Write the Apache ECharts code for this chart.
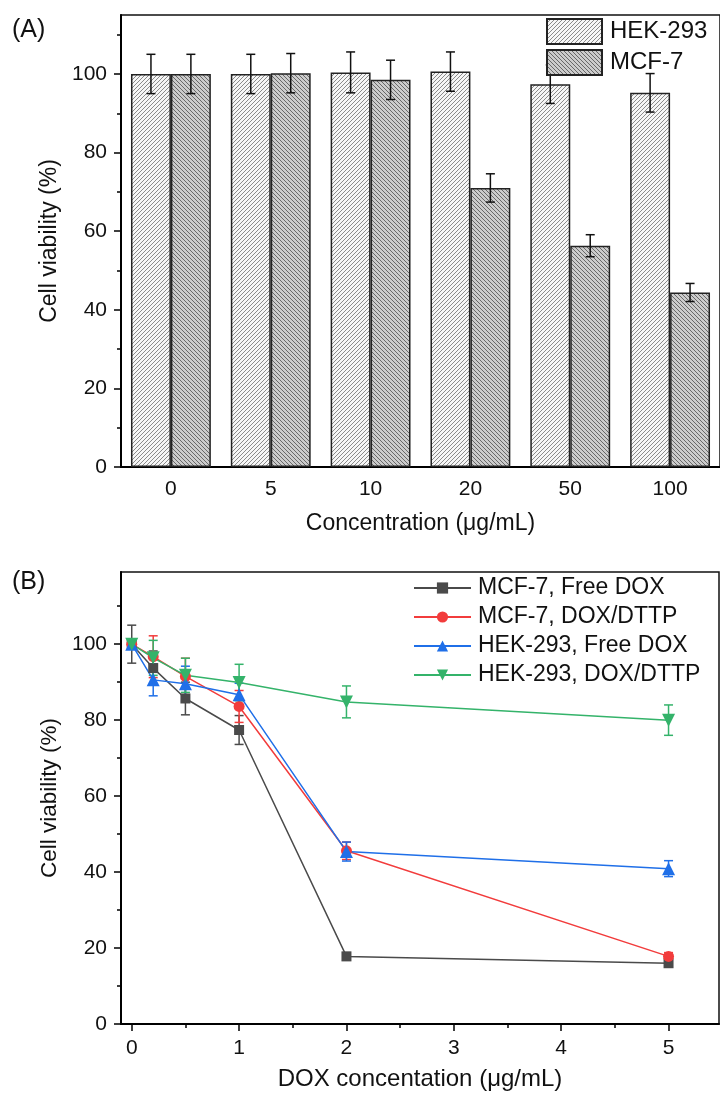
<!DOCTYPE html>
<html><head><meta charset="utf-8">
<script src="https://cdn.jsdelivr.net/npm/echarts@6/dist/echarts.min.js"></script>
<style>html,body{margin:0;padding:0;background:#fff}#c{width:720px;height:1093px}</style>
</head><body><div id="c"></div>
<script>
// ---------- Panel A data ----------
const concLabels = ['0', '5', '10', '20', '50', '100'];
const hekMean = [100, 100, 100.4, 100.6, 97.4, 95.2];
const hekErr  = [5, 5, 5.2, 5, 4.9, 4.9];
const mcfMean = [100, 100.2, 98.5, 71.0, 56.3, 44.4];
const mcfErr  = [5, 5, 5, 3.6, 2.8, 2.3];
const yTicks = [0, 20, 40, 60, 80, 100];
const yMinorTicks = [10, 30, 50, 70, 90, 110];

// ---------- Panel B data ----------
const doses = [0, 0.2, 0.5, 1, 2, 5];
const mcfFree     = [100, 93.7, 85.7, 77.4, 17.8, 16.0];
const mcfFreeErr  = [5, 4.5, 4.3, 3.8, 1, 1];
const mcfDttp     = [100, 96.7, 91.5, 83.6, 45.6, 17.8];
const mcfDttpErr  = [1, 5.5, 4.8, 4.2, 2.3, 1];
const hekFree     = [100, 90.6, 89.6, 86.7, 45.4, 40.9];
const hekFreeErr  = [1, 4.2, 4.6, 3, 2.5, 2.1];
const hekDttp     = [100, 96.4, 91.8, 89.9, 84.8, 80.0];
const hekDttpErr  = [1, 4.6, 4.5, 4.8, 4.2, 4];
const doseTicks = [0, 1, 2, 3, 4, 5];
const doseMinorTicks = [0.5, 1.5, 2.5, 3.5, 4.5];

const FONT = '"Liberation Sans", Arial, Helvetica, sans-serif';

function hatch(bg, fg, dir) {
  const s = 4;
  const c = document.createElement('canvas');
  c.width = s; c.height = s;
  const g = c.getContext('2d');
  g.fillStyle = bg; g.fillRect(0, 0, s, s);
  g.strokeStyle = fg; g.lineWidth = 1;
  g.beginPath();
  if (dir > 0) {
    g.moveTo(0, s); g.lineTo(s, 0);
    g.moveTo(-1, 1); g.lineTo(1, -1);
    g.moveTo(s - 1, s + 1); g.lineTo(s + 1, s - 1);
  } else {
    g.moveTo(0, 0); g.lineTo(s, s);
    g.moveTo(-1, s - 1); g.lineTo(1, s + 1);
    g.moveTo(s - 1, -1); g.lineTo(s + 1, 1);
  }
  g.stroke();
  return { image: c, repeat: 'repeat' };
}

function errBarA(offsetFrac) {
  return function (params, api) {
    const i = api.value(0), m = api.value(1), e = api.value(2);
    const band = api.size([1, 0])[0];
    const x = api.coord([i, m])[0] + offsetFrac * band;
    const top = api.coord([i, m + e])[1], bot = api.coord([i, m - e])[1];
    const w = 4.5;
    const st = { stroke: '#111', lineWidth: 1.5 };
    return { type: 'group', children: [
      { type: 'line', shape: { x1: x, y1: top, x2: x, y2: bot }, style: st },
      { type: 'line', shape: { x1: x - w, y1: top, x2: x + w, y2: top }, style: st },
      { type: 'line', shape: { x1: x - w, y1: bot, x2: x + w, y2: bot }, style: st }
    ]};
  };
}
function errBarB(color) {
  return function (params, api) {
    const xv = api.value(0), m = api.value(1), e = api.value(2);
    const x = api.coord([xv, m])[0];
    const top = api.coord([xv, m + e])[1], bot = api.coord([xv, m - e])[1];
    const w = 4.5;
    const st = { stroke: color, lineWidth: 1.5 };
    return { type: 'group', children: [
      { type: 'line', shape: { x1: x, y1: top, x2: x, y2: bot }, style: st },
      { type: 'line', shape: { x1: x - w, y1: top, x2: x + w, y2: top }, style: st },
      { type: 'line', shape: { x1: x - w, y1: bot, x2: x + w, y2: bot }, style: st }
    ]};
  };
}
const zip3 = (a, b, c) => a.map((v, i) => [v, b[i], c[i]]);
const idx = (arr) => arr.map((_, i) => i);

const axisLineStyle = { show: true, onZero: false, lineStyle: { color: '#000', width: 2 } };
const labelStyle = { color: '#111', fontSize: 21, fontFamily: FONT };

const colB = { black: '#4a4a4a', red: '#f23c3c', blue: '#1f6fe8', green: '#34b36a' };

const hekPattern = hatch('#f6f6f6', '#8a8a8a', 1);
const mcfPattern = hatch('#cccccc', '#686868', -1);

const option = {
  backgroundColor: '#fff',
  animation: false,
  textStyle: { fontFamily: FONT },
  graphic: [
    { type: 'text', left: 12, top: 18, style: { text: '(A)', fontSize: 25, fontFamily: FONT, fill: '#111' } },
    { type: 'text', left: 12, top: 570, style: { text: '(B)', fontSize: 25, fontFamily: FONT, fill: '#111' } }
  ],
  grid: [
    { left: 121, top: 15, width: 600, height: 452, show: true, borderColor: '#111', borderWidth: 1.5, backgroundColor: 'transparent' },
    { left: 121, top: 572, width: 598, height: 452, show: true, borderColor: '#111', borderWidth: 1.5, backgroundColor: 'transparent' }
  ],
  legend: [
    {
      data: ['HEK-293', 'MCF-7'], orient: 'vertical', left: 546, top: 18,
      itemWidth: 55, itemHeight: 25, itemGap: 4, icon: 'rect', padding: 0,
      textStyle: { fontSize: 24, color: '#111', fontFamily: FONT, lineHeight: 25, padding: [0, 0, 0, 3] }
    },
    {
      data: ['MCF-7, Free DOX', 'MCF-7, DOX/DTTP', 'HEK-293, Free DOX', 'HEK-293, DOX/DTTP'],
      orient: 'vertical', left: 413, top: 576, padding: 0,
      itemWidth: 57, itemHeight: 14, itemGap: 5,
      textStyle: { fontSize: 23, color: '#111', fontFamily: FONT, lineHeight: 24, padding: [0, 0, 0, 2] }
    }
  ],
  xAxis: [
    {
      gridIndex: 0, type: 'category', data: concLabels,
      axisLine: axisLineStyle, axisTick: { show: false },
      axisLabel: Object.assign({ margin: 12 }, labelStyle),
      splitLine: { show: false },
      name: 'Concentration (μg/mL)', nameLocation: 'middle', nameGap: 45,
      nameTextStyle: { fontSize: 23, color: '#111', fontFamily: FONT }
    },
    {
      gridIndex: 1, type: 'value', min: -0.1, max: 5.47,
      axisLine: axisLineStyle,
      axisTick: { show: true, customValues: doseTicks, length: 7, lineStyle: { color: '#000', width: 1.5 } },
      axisLabel: Object.assign({ margin: 14, customValues: doseTicks }, labelStyle),
      splitLine: { show: false },
      name: 'DOX concentation (μg/mL)', nameLocation: 'middle', nameGap: 43,
      nameTextStyle: { fontSize: 24, color: '#111', fontFamily: FONT }
    },
    {
      gridIndex: 1, type: 'value', min: -0.1, max: 5.47, position: 'bottom',
      axisLine: { show: false, onZero: false },
      axisTick: { show: true, customValues: doseMinorTicks, length: 4, lineStyle: { color: '#000', width: 1.5 } },
      axisLabel: { show: false }, splitLine: { show: false }
    }
  ],
  yAxis: [
    {
      gridIndex: 0, type: 'value', min: 0, max: 115, position: 'left',
      axisLine: axisLineStyle,
      axisTick: { show: true, customValues: yTicks, length: 7, lineStyle: { color: '#000', width: 1.5 } },
      axisLabel: Object.assign({ margin: 14, customValues: yTicks }, labelStyle),
      splitLine: { show: false },
      name: 'Cell viability (%)', nameLocation: 'middle', nameGap: 60, nameRotate: 90,
      nameTextStyle: { fontSize: 23, color: '#111', fontFamily: FONT }
    },
    {
      gridIndex: 0, type: 'value', min: 0, max: 115, position: 'left',
      axisLine: { show: false, onZero: false },
      axisTick: { show: true, customValues: yMinorTicks, length: 4, lineStyle: { color: '#000', width: 1.5 } },
      axisLabel: { show: false }, splitLine: { show: false }
    },
    {
      gridIndex: 1, type: 'value', min: 0, max: 119, position: 'left',
      axisLine: axisLineStyle,
      axisTick: { show: true, customValues: yTicks, length: 7, lineStyle: { color: '#000', width: 1.5 } },
      axisLabel: Object.assign({ margin: 14, customValues: yTicks }, labelStyle),
      splitLine: { show: false },
      name: 'Cell viability (%)', nameLocation: 'middle', nameGap: 60, nameRotate: 90,
      nameTextStyle: { fontSize: 22.5, color: '#111', fontFamily: FONT }
    },
    {
      gridIndex: 1, type: 'value', min: 0, max: 119, position: 'left',
      axisLine: { show: false, onZero: false },
      axisTick: { show: true, customValues: yMinorTicks, length: 4, lineStyle: { color: '#000', width: 1.5 } },
      axisLabel: { show: false }, splitLine: { show: false }
    }
  ],
  series: [
    {
      name: 'HEK-293', type: 'bar', xAxisIndex: 0, yAxisIndex: 0, data: hekMean,
      barWidth: '40%', barGap: '0%',
      itemStyle: { color: hekPattern, borderColor: '#222', borderWidth: 1.5 }
    },
    {
      name: 'MCF-7', type: 'bar', xAxisIndex: 0, yAxisIndex: 0, data: mcfMean,
      barWidth: '40%', barGap: '0%',
      itemStyle: { color: mcfPattern, borderColor: '#222', borderWidth: 1.5 }
    },
    { type: 'custom', xAxisIndex: 0, yAxisIndex: 0, renderItem: errBarA(-0.2),
      data: zip3(idx(hekMean), hekMean, hekErr), encode: { x: 0, y: 1 }, z: 3 },
    { type: 'custom', xAxisIndex: 0, yAxisIndex: 0, renderItem: errBarA(0.2),
      data: zip3(idx(mcfMean), mcfMean, mcfErr), encode: { x: 0, y: 1 }, z: 3 },

    { type: 'custom', xAxisIndex: 1, yAxisIndex: 2, renderItem: errBarB(colB.black),
      data: zip3(doses, mcfFree, mcfFreeErr), encode: { x: 0, y: 1 }, z: 2 },
    { type: 'custom', xAxisIndex: 1, yAxisIndex: 2, renderItem: errBarB(colB.red),
      data: zip3(doses, mcfDttp, mcfDttpErr), encode: { x: 0, y: 1 }, z: 2 },
    { type: 'custom', xAxisIndex: 1, yAxisIndex: 2, renderItem: errBarB(colB.blue),
      data: zip3(doses, hekFree, hekFreeErr), encode: { x: 0, y: 1 }, z: 2 },
    { type: 'custom', xAxisIndex: 1, yAxisIndex: 2, renderItem: errBarB(colB.green),
      data: zip3(doses, hekDttp, hekDttpErr), encode: { x: 0, y: 1 }, z: 2 },

    { name: 'MCF-7, Free DOX', type: 'line', xAxisIndex: 1, yAxisIndex: 2,
      data: doses.map((d, i) => [d, mcfFree[i]]), symbol: 'rect', symbolSize: 10,
      itemStyle: { color: colB.black }, lineStyle: { color: colB.black, width: 1.5 }, z: 3 },
    { name: 'MCF-7, DOX/DTTP', type: 'line', xAxisIndex: 1, yAxisIndex: 2,
      data: doses.map((d, i) => [d, mcfDttp[i]]), symbol: 'circle', symbolSize: 11,
      itemStyle: { color: colB.red }, lineStyle: { color: colB.red, width: 1.5 }, z: 3 },
    { name: 'HEK-293, Free DOX', type: 'line', xAxisIndex: 1, yAxisIndex: 2,
      data: doses.map((d, i) => [d, hekFree[i]]), symbol: 'triangle', symbolSize: 13,
      itemStyle: { color: colB.blue }, lineStyle: { color: colB.blue, width: 1.5 }, z: 3 },
    { name: 'HEK-293, DOX/DTTP', type: 'line', xAxisIndex: 1, yAxisIndex: 2,
      data: doses.map((d, i) => [d, hekDttp[i]]), symbol: 'triangle', symbolRotate: 180, symbolSize: 13,
      itemStyle: { color: colB.green }, lineStyle: { color: colB.green, width: 1.5 }, z: 3 }
  ]
};

const chart = echarts.init(document.getElementById('c'), null, { renderer: 'canvas' });
chart.setOption(option);
</script>
</body></html>
